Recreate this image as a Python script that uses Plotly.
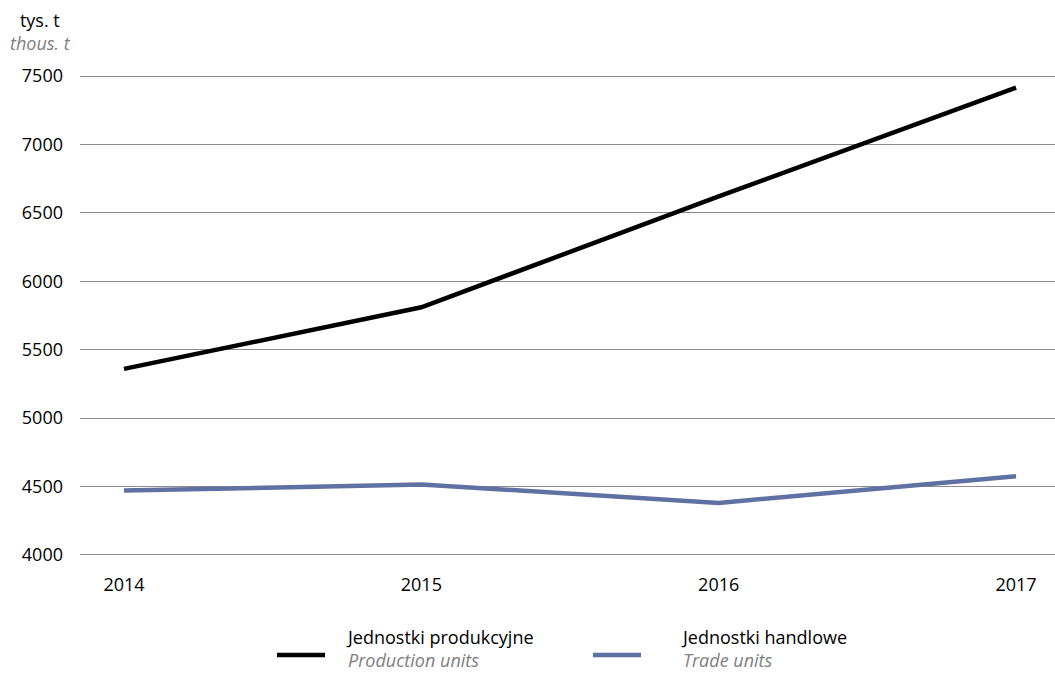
import plotly.graph_objects as go

years = [2014, 2015, 2016, 2017]
production = [5360, 5810, 6620, 7415]
trade = [4470, 4515, 4380, 4575]
y_ticks = [4000, 4500, 5000, 5500, 6000, 6500, 7000, 7500]

FONT = "Open Sans"
BLUE = "#6070a3"
GRAY_TXT = "#808080"
FS = 18

fig = go.Figure()
fig.add_trace(go.Scatter(x=years, y=production, mode="lines",
                         line=dict(color="black", width=4.5), showlegend=False))
fig.add_trace(go.Scatter(x=years, y=trade, mode="lines",
                         line=dict(color=BLUE, width=4.5), showlegend=False))

# plot area in page pixels: x 80..1055, y 75..556
L, R, T, B = 80, 1055, 75, 556
W, H = R - L, B - T

fig.update_layout(
    width=1055, height=673,
    margin=dict(l=L, r=1055 - R, t=T, b=673 - B),
    plot_bgcolor="white", paper_bgcolor="white",
    font=dict(family=FONT, size=FS, color="black"),
    xaxis=dict(range=[2013.852, 2017.131], tickvals=years, ticktext=[str(y) for y in years],
               showgrid=False, zeroline=False, showline=False, ticks="",
               tickfont=dict(size=FS), ticklabelstandoff=16),
    yaxis=dict(range=[3992, 7508], tickvals=y_ticks, showgrid=True, gridcolor="#8c8c8c",
               gridwidth=1, zeroline=False, showline=False, ticks="",
               tickfont=dict(size=FS), ticklabelstandoff=16),
)

def px(x):
    return (x - L) / W

def py(y):
    return (B - y) / H

ann = []
ann.append(dict(xref="paper", yref="paper", x=px(40), y=py(32),
                text="tys. t<br><i><span style='color:%s'>thous. t</span></i>" % GRAY_TXT,
                showarrow=False, xanchor="center", yanchor="middle", borderpad=0,
                font=dict(size=FS, color="black", family=FONT)))

legend_items = [("Jednostki produkcyjne", "Production units", "black", 277, 325, 345),
                ("Jednostki handlowe", "Trade units", BLUE, 593, 641, 680)]
shapes = []
for pl, en, col, x0, x1, tx in legend_items:
    shapes.append(dict(type="line", xref="paper", yref="paper",
                       x0=px(x0), x1=px(x1), y0=py(655), y1=py(655),
                       line=dict(color=col, width=4.5)))
    ann.append(dict(xref="paper", yref="paper", x=px(tx), y=py(648),
                    text="%s<br><i><span style='color:%s'>%s</span></i>" % (pl, GRAY_TXT, en),
                    showarrow=False, xanchor="left", yanchor="middle", align="left", borderpad=0,
                    font=dict(size=FS, color="black", family=FONT)))

fig.update_layout(annotations=ann, shapes=shapes)
fig.write_html("out.html", config={"displayModeBar": False},
               post_script="document.body.style.margin='0';")
